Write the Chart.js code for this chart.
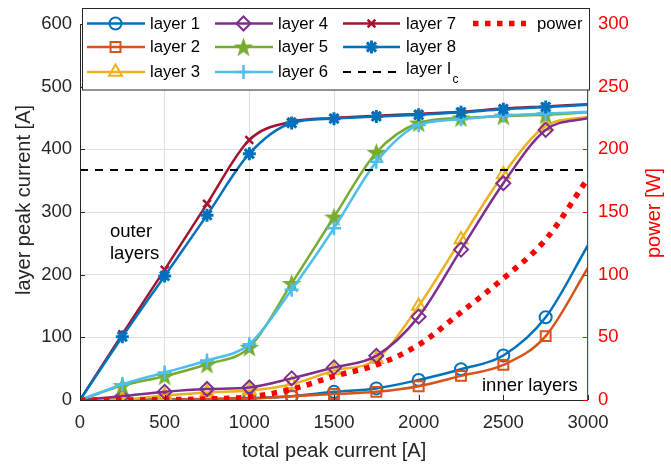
<!DOCTYPE html>
<html>
<head>
<meta charset="utf-8">
<script src="https://cdn.jsdelivr.net/npm/chart.js@4/dist/chart.umd.min.js"></script>
<style>
  html, body { margin: 0; padding: 0; background: #fff; }
  #wrap { width: 671px; height: 466px; position: relative; }
</style>
</head>
<body>
<div id="wrap"><canvas id="c" width="671" height="466"></canvas></div>
<script>
// total peak current [A]
const totalCurrent = [0, 250, 500, 750, 1000, 1250, 1500, 1750, 2000, 2250, 2500, 2750, 3000];

// layer peak currents [A]
const layer1 = [0, 0.5, 1, 1.5, 3, 6, 13, 18.5, 32, 49, 71, 132, 247];
const layer2 = [0, 0.3, 0.8, 1.2, 2, 6, 9.5, 13, 22, 38.5, 56, 102, 211];
const layer3 = [0, 1, 7, 12, 15, 25, 47, 65, 150, 256, 360, 437, 452];
const layer4 = [0, 6, 13, 17.5, 20, 34.5, 52, 70.5, 133, 240, 346, 431, 450];
const layer5 = [0, 23, 38, 57, 84, 186, 292, 395, 442, 450, 453, 455, 459];
const layer6 = [0, 25, 44, 63, 89, 176, 274, 380, 439, 448, 454, 457, 460];
const layer7 = [0, 105, 208, 313, 415, 444, 450, 453.5, 456.5, 460, 465, 468.5, 472];
const layer8 = [0, 101, 198, 295, 393, 442, 449, 452.5, 455, 459, 464, 467.5, 471];

// dissipated power [W]
const power = [0, 0, 0.3, 0.8, 2.5, 8.5, 19, 28, 44, 70, 97, 128, 177];

// critical current of a layer [A]
const layerIc = 367;

// axis ranges / tick steps
const xRange = [0, 3000], xStep = 500;
const yRange = [0, 600], yStep = 100;
const y2Range = [0, 300], y2Step = 50;

const FONT = "'Liberation Sans', Arial, Helvetica, sans-serif";
const AXIS = '#262626';
const RED = '#ff0000';

// filled five-pointed star marker
function makePentagram(color, r) {
  const c = document.createElement('canvas');
  const s = Math.ceil(r * 2 + 4);
  c.width = s; c.height = s;
  const g = c.getContext('2d');
  g.translate(s / 2, s / 2 + 0.8);
  g.beginPath();
  for (let i = 0; i < 10; i++) {
    const rad = i % 2 === 0 ? r : r * 0.4;
    const a = -Math.PI / 2 + i * Math.PI / 5;
    const px = rad * Math.cos(a), py = rad * Math.sin(a);
    if (i === 0) g.moveTo(px, py); else g.lineTo(px, py);
  }
  g.closePath();
  g.fillStyle = color; g.strokeStyle = color; g.lineWidth = 1.2;
  g.fill(); g.stroke();
  return c;
}

const C1 = '#0072bd', C2 = '#d95319', C3 = '#edb120', C4 = '#7e2f8e',
      C5 = '#77ac30', C6 = '#4dbeee', C7 = '#a2142f', C8 = '#0072bd';
const star5 = makePentagram(C5, 8.5);

const lastIdx = totalCurrent.length - 1;
function layerSeries(label, values, color, style, radius, bw, order) {
  return {
    label,
    data: totalCurrent.map((x, i) => ({ x, y: values[i] })),
    borderColor: color,
    backgroundColor: 'rgba(0,0,0,0)',
    borderWidth: 2.5,
    pointStyle: style,
    pointBorderColor: color,
    pointBackgroundColor: 'rgba(0,0,0,0)',
    pointBorderWidth: bw,
    pointRadius: ctx => (ctx.dataIndex === 0 || ctx.dataIndex === lastIdx) ? 0 : radius,
    pointHoverRadius: 0,
    cubicInterpolationMode: 'monotone',
    yAxisID: 'y',
    order,
    _marker: { style, radius, bw, color }
  };
}

const datasets = [
  layerSeries('layer 1', layer1, C1, 'circle', 6, 2, 12),
  layerSeries('layer 2', layer2, C2, 'rect', 7, 2, 11),
  layerSeries('layer 3', layer3, C3, 'triangle', 7.5, 2, 10),
  layerSeries('layer 4', layer4, C4, 'rectRot', 7, 2, 9),
  layerSeries('layer 5', layer5, C5, star5, 8, 2, 8),
  layerSeries('layer 6', layer6, C6, 'cross', 7, 2.5, 7),
  layerSeries('layer 7', layer7, C7, 'crossRot', 5.5, 2.5, 6),
  layerSeries('layer 8', layer8, C8, 'star', 6.5, 3, 5),
  {
    label: 'layer Ic',
    data: [{ x: xRange[0], y: layerIc }, { x: xRange[1], y: layerIc }],
    borderColor: '#000', borderWidth: 2, borderDash: [8, 7],
    pointRadius: 0, pointHoverRadius: 0, yAxisID: 'y', order: 2
  },
  {
    label: 'power',
    data: totalCurrent.map((x, i) => ({ x, y: power[i] })),
    borderColor: RED, borderWidth: 5.5, borderDash: [5.5, 6.5], borderCapStyle: 'butt',
    pointRadius: 0, pointHoverRadius: 0, cubicInterpolationMode: 'monotone',
    yAxisID: 'y2', order: 1
  }
];

// inward ticks, legend box, text annotations and axis titles
const decor = {
  id: 'decor',
  afterDraw(chart) {
    const ctx = chart.ctx;
    const a = chart.chartArea;
    const sx = chart.scales.x, sy = chart.scales.y, sy2 = chart.scales.y2;
    ctx.save();

    // axis lines
    ctx.lineWidth = 1;
    ctx.strokeStyle = AXIS;
    ctx.beginPath();
    ctx.moveTo(a.left + 0.5, a.top); ctx.lineTo(a.left + 0.5, a.bottom + 0.5);
    ctx.lineTo(a.right, a.bottom + 0.5);
    ctx.stroke();
    ctx.strokeStyle = RED;
    ctx.beginPath();
    ctx.moveTo(a.right - 0.5, a.top); ctx.lineTo(a.right - 0.5, a.bottom + 1);
    ctx.stroke();

    // inward ticks
    ctx.strokeStyle = AXIS;
    ctx.beginPath();
    for (let v = xRange[0]; v <= xRange[1]; v += xStep) {
      const px = Math.round(sx.getPixelForValue(v)) + 0.5;
      ctx.moveTo(px, a.bottom); ctx.lineTo(px, a.bottom - 5);
    }
    for (let v = yRange[0]; v <= yRange[1]; v += yStep) {
      const py = Math.round(sy.getPixelForValue(v)) + 0.5;
      ctx.moveTo(a.left, py); ctx.lineTo(a.left + 5, py);
    }
    ctx.stroke();
    ctx.strokeStyle = RED;
    ctx.beginPath();
    for (let v = y2Range[0]; v <= y2Range[1]; v += y2Step) {
      const py = Math.round(sy2.getPixelForValue(v)) + 0.5;
      ctx.moveTo(a.right, py); ctx.lineTo(a.right - 5, py);
    }
    ctx.stroke();

    // legend box
    const box = { x: 82.5, y: 8.5, w: 507, h: 81.5 };
    ctx.fillStyle = '#fff';
    ctx.fillRect(box.x, box.y, box.w, box.h);
    ctx.strokeStyle = AXIS; ctx.lineWidth = 1;
    ctx.strokeRect(box.x, box.y, box.w, box.h);

    const rows = [23.5, 47, 72];
    const cols = [
      { l0: 87, l1: 145, m: 115.5, t: 150 },
      { l0: 215, l1: 273, m: 243.5, t: 278 },
      { l0: 343, l1: 400, m: 371.5, t: 406 },
      { l0: 473, l1: 526, m: 0, t: 537 }
    ];
    const entries = [
      [0, 0, 0], [0, 1, 1], [0, 2, 2],
      [1, 0, 3], [1, 1, 4], [1, 2, 5],
      [2, 0, 6], [2, 1, 7]
    ];
    ctx.font = '16.7px ' + FONT;
    ctx.textBaseline = 'middle';
    ctx.textAlign = 'left';
    entries.forEach(([ci, ri, di]) => {
      const ds = datasets[di], mk = ds._marker, c = cols[ci], y = rows[ri];
      ctx.setLineDash([]);
      ctx.strokeStyle = mk.color; ctx.lineWidth = 2.5;
      ctx.beginPath(); ctx.moveTo(c.l0, y); ctx.lineTo(c.l1, y); ctx.stroke();
      ctx.lineWidth = mk.bw; ctx.fillStyle = 'rgba(0,0,0,0)';
      Chart.helpers.drawPoint(ctx, { pointStyle: mk.style, radius: mk.radius, borderWidth: mk.bw, rotation: 0 }, c.m, y);
      ctx.fillStyle = '#000';
      ctx.fillText(ds.label, c.t, y + 0.5);
    });
    // critical current entry
    ctx.strokeStyle = '#000'; ctx.lineWidth = 2; ctx.setLineDash([8, 7]);
    ctx.beginPath(); ctx.moveTo(cols[2].l0, rows[2]); ctx.lineTo(cols[2].l1, rows[2]); ctx.stroke();
    ctx.setLineDash([]);
    ctx.fillStyle = '#000';
    ctx.fillText('layer I', cols[2].t, rows[2] - 3);
    const wI = ctx.measureText('layer I').width;
    ctx.font = '12px ' + FONT;
    ctx.fillText('c', cols[2].t + wI + 1, rows[2] + 8);
    // power entry
    ctx.font = '16.7px ' + FONT;
    ctx.strokeStyle = RED; ctx.lineWidth = 5.5; ctx.setLineDash([5.5, 6.5]);
    ctx.beginPath(); ctx.moveTo(cols[3].l0, rows[0]); ctx.lineTo(cols[3].l1, rows[0]); ctx.stroke();
    ctx.setLineDash([]);
    ctx.fillText('power', cols[3].t, rows[0] + 0.5);

    // annotations
    ctx.font = '18.5px ' + FONT;
    ctx.textBaseline = 'alphabetic';
    ctx.fillStyle = '#000';
    ctx.fillText('outer', 110, 237);
    ctx.fillText('layers', 110, 259);
    ctx.fillText('inner layers', 482, 391);

    // axis titles
    ctx.font = '20px ' + FONT;
    ctx.fillStyle = AXIS;
    ctx.textAlign = 'center';
    ctx.fillText('total peak current [A]', (a.left + a.right) / 2, 457);
    ctx.textBaseline = 'middle';
    ctx.save();
    ctx.translate(24, 200);
    ctx.rotate(-Math.PI / 2);
    ctx.fillText('layer peak current [A]', 0, 0);
    ctx.restore();
    ctx.save();
    ctx.fillStyle = RED;
    ctx.translate(654, 213);
    ctx.rotate(-Math.PI / 2);
    ctx.fillText('power [W]', 0, 0);
    ctx.restore();

    ctx.restore();
  }
};

const plainTick = v => String(v);

new Chart(document.getElementById('c'), {
  type: 'line',
  data: { datasets },
  options: {
    responsive: false,
    animation: false,
    devicePixelRatio: 1,
    layout: { padding: { top: 24, left: 0, right: 0, bottom: 0 } },
    plugins: { legend: { display: false }, tooltip: { enabled: false } },
    scales: {
      x: {
        type: 'linear', min: xRange[0], max: xRange[1],
        ticks: { stepSize: xStep, color: AXIS, font: { family: FONT, size: 18.5 }, padding: 12, maxRotation: 0, callback: plainTick },
        grid: { color: '#dedede', drawTicks: false },
        border: { display: false },
        afterFit: s => { s.height = 66; }
      },
      y: {
        position: 'left', min: yRange[0], max: yRange[1],
        ticks: { stepSize: yStep, color: AXIS, font: { family: FONT, size: 18.5 }, padding: 8, callback: plainTick },
        grid: { color: '#dedede', drawTicks: false },
        border: { display: false },
        afterFit: s => { s.width = 80; }
      },
      y2: {
        position: 'right', min: y2Range[0], max: y2Range[1],
        ticks: { stepSize: y2Step, color: RED, font: { family: FONT, size: 18.5 }, padding: 10, callback: plainTick },
        grid: { drawOnChartArea: false, drawTicks: false },
        border: { display: false },
        afterFit: s => { s.width = 83; }
      }
    }
  },
  plugins: [decor]
});
</script>
</body>
</html>
